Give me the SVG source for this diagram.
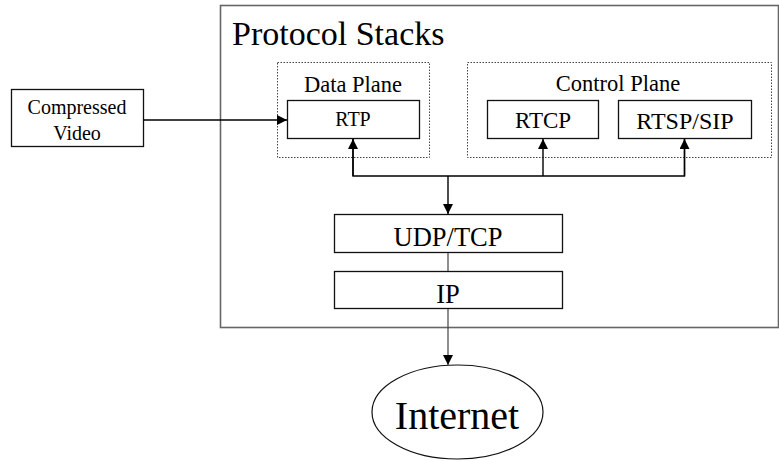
<svg xmlns="http://www.w3.org/2000/svg" width="779" height="461" viewBox="0 0 779 461">
  <style>
    .box { fill: #fff; stroke: #111; stroke-width: 1.3; }
    .plane { fill: none; stroke: #444; stroke-width: 1; stroke-dasharray: 1.5 1.5; }
    .frame { fill: none; stroke: #666; stroke-width: 1.6; }
    .wire { fill: none; stroke: #000; stroke-width: 1.4; }
    .thin { fill: none; stroke: #444; stroke-width: 1.2; }
  </style>
  <defs>
    <marker id="head" viewBox="0 0 10 10" refX="10" refY="5" markerWidth="10" markerHeight="10" markerUnits="userSpaceOnUse" orient="auto">
      <path d="M0,0 L10,5 L0,10 z" fill="#000"/>
    </marker>
  </defs>
  <rect width="779" height="461" fill="#fff"/>

  <g font-family="'Liberation Serif', 'DejaVu Serif', serif" fill="#000" text-anchor="middle">

  <!-- enclosing protocol stack frame -->
  <g id="protocol-stacks">
    <rect class="frame" x="220.5" y="5.5" width="558" height="322"/>
    <text x="232" y="45" font-size="34" text-anchor="start">Protocol Stacks</text>
  </g>

  <g id="data-plane">
    <rect class="plane" x="277.5" y="62.5" width="152" height="95"/>
    <text x="353" y="92" font-size="22.5">Data Plane</text>
  </g>

  <g id="control-plane">
    <rect class="plane" x="467.5" y="62.5" width="304" height="95"/>
    <text x="618" y="91" font-size="22.5">Control Plane</text>
  </g>

  <g id="compressed-video">
    <rect class="box" x="11.5" y="89.5" width="132" height="57"/>
    <text x="77" y="114" font-size="20">Compressed</text>
    <text x="77" y="140" font-size="20">Video</text>
  </g>

  <g id="rtp">
    <rect class="box" x="287.5" y="100.5" width="132" height="38"/>
    <text x="353" y="126" font-size="20">RTP</text>
  </g>

  <g id="rtcp">
    <rect class="box" x="487.5" y="100.5" width="111" height="38"/>
    <text x="543" y="128" font-size="23">RTCP</text>
  </g>

  <g id="rtsp-sip">
    <rect class="box" x="618.5" y="100.5" width="133" height="38"/>
    <text x="685" y="129" font-size="24">RTSP/SIP</text>
  </g>

  <g id="udp-tcp">
    <rect class="box" x="334.5" y="214.5" width="228" height="38"/>
    <text x="448" y="246" font-size="26.5">UDP/TCP</text>
  </g>

  <g id="ip">
    <rect class="box" x="334.5" y="271.5" width="228" height="37"/>
    <text x="448" y="303" font-size="26.5">IP</text>
  </g>

  <g id="internet">
    <ellipse cx="457.5" cy="412" rx="85.5" ry="47" fill="#fff" stroke="#111" stroke-width="1.2"/>
    <text x="457" y="429" font-size="40">Internet</text>
  </g>

  </g>

  <!-- connectors -->
  <g id="connectors">
    <line class="wire" x1="143.5" y1="120" x2="287" y2="120" marker-end="url(#head)"/>
    <polyline class="wire" points="353,139 353,176 684.5,176 684.5,139"/>
    <line class="wire" x1="353" y1="176" x2="353" y2="139" marker-end="url(#head)"/>
    <line class="wire" x1="543" y1="176" x2="543" y2="139" marker-end="url(#head)"/>
    <line class="wire" x1="684.5" y1="176" x2="684.5" y2="139" marker-end="url(#head)"/>
    <line class="wire" x1="448" y1="176" x2="448" y2="214" stroke-width="2" marker-end="url(#head)"/>
    <line class="thin" x1="448" y1="253" x2="448" y2="271"/>
    <line class="thin" x1="448" y1="309" x2="448" y2="365" marker-end="url(#head)"/>
  </g>
</svg>
